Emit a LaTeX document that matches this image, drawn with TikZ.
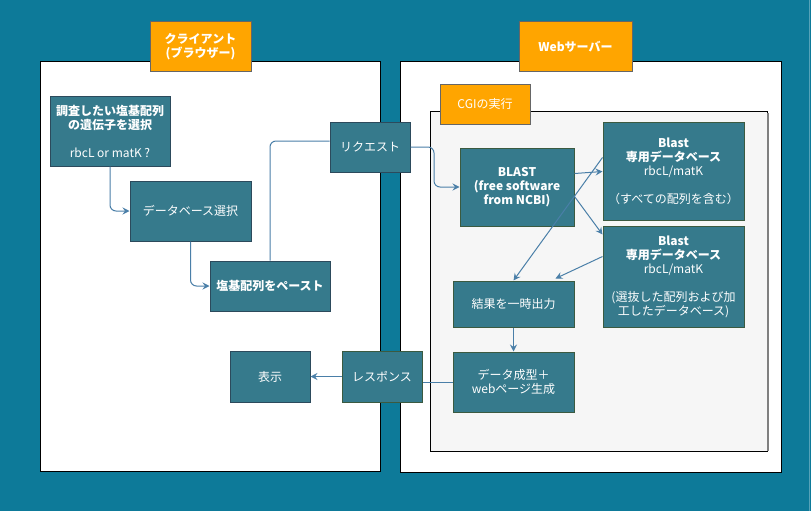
\documentclass[tikz,border=0pt]{standalone}
\usepackage{fontspec}
\setmainfont{Noto Sans CJK JP}
\usetikzlibrary{arrows.meta,calc}
\definecolor{bgteal}{HTML}{0D7A99}
\definecolor{nodeteal}{HTML}{367A8C}
\definecolor{cborder}{HTML}{2C4A5C}
\definecolor{sborder}{HTML}{3B5A40}
\definecolor{lbl}{HTML}{FFA500}
\definecolor{conncol}{HTML}{4A7FA8}
\definecolor{cgibg}{HTML}{F6F6F6}
\tikzset{
  box/.style={draw=cborder, line width=1pt, fill=nodeteal, text=white, align=center, inner sep=1pt, font=\fontsize{12}{14}\selectfont},
  sbox/.style={box, draw=sborder},
  tag/.style={draw=gray!80!black, line width=1pt, fill=lbl, text=white, align=center, inner sep=1pt, font=\fontsize{12}{14}\selectfont},
  panel/.style={draw=black, line width=1pt, fill=white},
  conn/.style={draw=conncol, line width=1pt, rounded corners=6pt},
  arr/.style={conn, -{Stealth[length=7pt,width=7pt,inset=2.5pt]}}
}
\begin{document}
\begin{tikzpicture}[x=1pt,y=-1pt]
\fill[bgteal] (0,0) rectangle (811,511);
\useasboundingbox (0,0) rectangle (811,511);
\draw[color=bgteal!70!white, line width=0.8pt] (809,0) -- (809,511);
% panels
\draw[panel] (40,62) rectangle (380,471);
\draw[panel] (400,62) rectangle (781,472);
\draw[fill=cgibg, draw=black, line width=1pt] (430,111) rectangle (767,451);
\draw[gray, line width=1.5pt] (768,113) -- (768,451);
% labels
\node[tag, minimum width=101pt, minimum height=50pt] (lclient) at (200.5,47) {\bfseries クライアント\\\bfseries (ブラウザー)};
\node[tag, minimum width=113pt, minimum height=50pt] (lserver) at (575.5,47) {\bfseries Webサーバー};
\node[tag, minimum width=90pt, minimum height=40pt] (lcgi) at (485,104) {CGIの実行};
% client nodes
\node[box, minimum width=120pt, minimum height=70pt] (n1) at (110,131) {\bfseries 調査したい塩基配列\\\bfseries の遺伝子を選択\\[14pt]rbcL or matK ?};
\node[box, minimum width=121pt, minimum height=60pt] (dbsel) at (190.5,211) {データベース選択};
\node[box, minimum width=120pt, minimum height=50pt] (paste) at (270,286) {\bfseries 塩基配列をペースト};
\node[box, minimum width=80pt, minimum height=50pt] (req) at (370,147) {リクエスト};
\node[box, minimum width=80pt, minimum height=51pt] (disp) at (270,376.5) {表示};
\node[sbox, minimum width=80pt, minimum height=51pt] (resp) at (382,376.5) {レスポンス};
% server nodes
\node[sbox, minimum width=114pt, minimum height=78pt] (blast) at (517,187) {\bfseries BLAST\\\bfseries (free software\\\bfseries from NCBI)};
\node[sbox, minimum width=141pt, minimum height=98pt] (db1) at (673.5,171) {\bfseries Blast\\\bfseries 専用データベース\\rbcL/matK\\[14pt]（すべての配列を含む）};
\node[sbox, minimum width=141pt, minimum height=101pt] (db2) at (673.5,276.5) {\bfseries Blast\\\bfseries 専用データベース\\rbcL/matK\\[14pt](選抜した配列および加\\工したデータベース)};
\node[sbox, minimum width=121pt, minimum height=46pt] (res) at (513.5,304) {結果を一時出力};
\node[sbox, minimum width=121pt, minimum height=60pt] (gen) at (513.5,382) {データ成型＋\\webページ生成};
% connectors
\draw[arr] (n1.south) |- (dbsel.west);
\draw[arr] (dbsel.south) |- (paste.west);
\draw[conn] (paste.north) |- ($(req.west)+(0,-6)$);
\draw[arr] (req.east) -| ($(req.east)!0.48!(blast.west)$) |- (blast.west);
\draw[arr] ($(blast.north east)+(0,26)$) -- ($(db1.north west)+(0,50)$);
\draw[arr] ($(blast.north east)+(0,49)$) -- ($(db2.north west)+(0,9)$);
\draw[arr] ($(db1.north west)+(0,36)$) -- (res.north);
\draw[arr] ($(db2.north west)+(0,31)$) -- ($(res.north east)+(-19,-2)$);
\draw[arr] (res.south) -- (gen.north);
\draw[conn] (gen.west) -- (gen.west -| resp.east);
\draw[arr] (resp.west) -- (disp.east);
\end{tikzpicture}
\end{document}
